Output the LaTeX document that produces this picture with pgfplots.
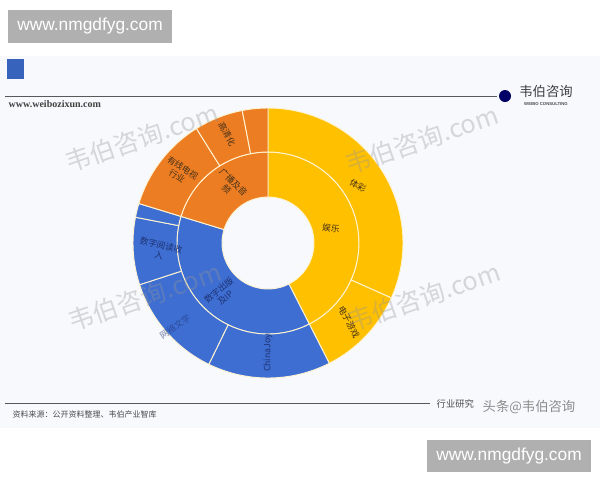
\documentclass[border=0pt]{standalone}
\usepackage{pgfplots}
\pgfplotsset{compat=1.18}
\usepackage{fontspec}
\setmainfont{Noto Sans CJK SC}
\newfontfamily\lsans{Liberation Sans}
\newfontfamily\lserif{Liberation Serif}

\definecolor{gold}{RGB}{255,192,0}
\definecolor{orng}{RGB}{237,125,35}
\definecolor{blu}{RGB}{62,110,210}
\definecolor{sep}{RGB}{255,244,210}
\definecolor{bg}{RGB}{247,249,252}
\definecolor{wm}{RGB}{150,150,150}
\definecolor{lbl}{RGB}{70,50,25}
\definecolor{lblb}{RGB}{30,50,115}

% ring sector: inner r, outer r (px), start angle, end angle, colour
\newcommand{\sector}[5]{%
  \fill[#5,draw=sep,line width=0.7pt]
    ([shift={(#3:{#2*0.75pt})}]c) arc[start angle=#3,end angle=#4,radius={#2*0.75pt}]
    -- ([shift={(#4:{#1*0.75pt})}]c) arc[start angle=#4,end angle=#3,radius={#1*0.75pt}] -- cycle;}

\begin{document}
\begin{tikzpicture}
\useasboundingbox (0,0) rectangle (450pt,360pt);
\begin{axis}[
    hide axis,
    scale only axis,
    width=450pt, height=360pt,
    xmin=0, xmax=600, ymin=0, ymax=480,
    y dir=reverse,
    clip=false,
]
% page background
\fill[white] (axis cs:0,0) rectangle (axis cs:600,480);
\fill[bg] (axis cs:0,56) rectangle (axis cs:600,428);

% header
\fill[blu!90!black] (axis cs:7,59) rectangle (axis cs:24,79);
\draw[gray!70!black,line width=0.6pt] (axis cs:5,96) -- (axis cs:497,96);
\node[anchor=west,font=\lserif\bfseries\fontsize{7.5}{8}\selectfont,text=black!75] at (axis cs:4,104) {www.weibozixun.com};
\fill[blue!40!black] (axis cs:505,96) circle[radius=4.5pt];
\node[font=\fontsize{10}{10}\selectfont,text=black!75] at (axis cs:546,91) {韦伯咨询};
\node[font=\lsans\bfseries\fontsize{3.2}{4}\selectfont,text=black!70] at (axis cs:546,104) {WEIBO CONSULTING};

% footer
\draw[gray!70!black,line width=0.6pt] (axis cs:5,403) -- (axis cs:430,403);
\node[anchor=west,font=\fontsize{6}{7}\selectfont,text=black!70] at (axis cs:8,414) {资料来源：公开资料整理、韦伯产业智库};
\node[anchor=west,font=\fontsize{7}{8}\selectfont,text=black!70] at (axis cs:432,404) {行业研究};
\node[anchor=west,font=\fontsize{10}{10}\selectfont,text=black!45] at (axis cs:478,407) {头条@韦伯咨询};

% sunburst
\path (axis cs:268,243) coordinate (c);
% inner ring
\sector{46}{91}{90}{-63}{gold}
\sector{46}{91}{-63}{-197}{blu}
\sector{46}{91}{163}{90}{orng}
% outer ring
\sector{91}{135}{90}{-24}{gold}
\sector{91}{135}{-24}{-63}{gold}
\sector{91}{135}{-63}{-116}{blu}
\sector{91}{135}{-116}{-162}{blu}
\sector{91}{135}{-162}{-191}{blu}
\sector{91}{135}{-191}{-197}{blu}
\sector{91}{135}{163}{122}{orng}
\sector{91}{135}{122}{101}{orng}
\sector{91}{135}{101}{90}{orng}

% segment labels
\begin{scope}[font=\fontsize{6.5}{7.5}\selectfont,text=lbl,align=center]
\node[rotate=-8] at (axis cs:331,228) {娱乐};
\node[rotate=-30] at (axis cs:358,186) {体彩};
\node[rotate=-62] at (axis cs:349,322) {电子游戏};
\node[rotate=-45] at (axis cs:230,186) {广播及音\\频};
\node[rotate=-33] at (axis cs:180,172) {有线电视\\行业};
\node[rotate=-62] at (axis cs:227,134) {高清化};
\end{scope}
\begin{scope}[font=\fontsize{6.5}{7.5}\selectfont,text=lblb,align=center]
\node[rotate=40] at (axis cs:222,294) {数字出版\\及IP};
\node[rotate=-14] at (axis cs:160,250) {数字阅读收\\入};
\node[rotate=35,text opacity=0.6] at (axis cs:175,327) {网络文学};
\node[rotate=90] at (axis cs:268,353) {ChinaJoy};
\end{scope}

% watermarks
\begin{scope}[font=\fontsize{19}{19}\selectfont,text=wm,text opacity=0.35]
\node[rotate=19] at (axis cs:142,138) {韦伯咨询.com};
\node[rotate=19] at (axis cs:422,140) {韦伯咨询.com};
\node[rotate=19] at (axis cs:145,297) {韦伯咨询.com};
\node[rotate=19] at (axis cs:424,297) {韦伯咨询.com};
\end{scope}

% site stamps
\fill[gray!62] (axis cs:8,10) rectangle (axis cs:172,43);
\node[font=\lsans\fontsize{13}{13}\selectfont,text=white] at (axis cs:90,26.5) {www.nmgdfyg.com};
\fill[gray!62] (axis cs:427,440) rectangle (axis cs:591,472);
\node[font=\lsans\fontsize{13}{13}\selectfont,text=white] at (axis cs:509,456) {www.nmgdfyg.com};
\end{axis}
\end{tikzpicture}
\end{document}
